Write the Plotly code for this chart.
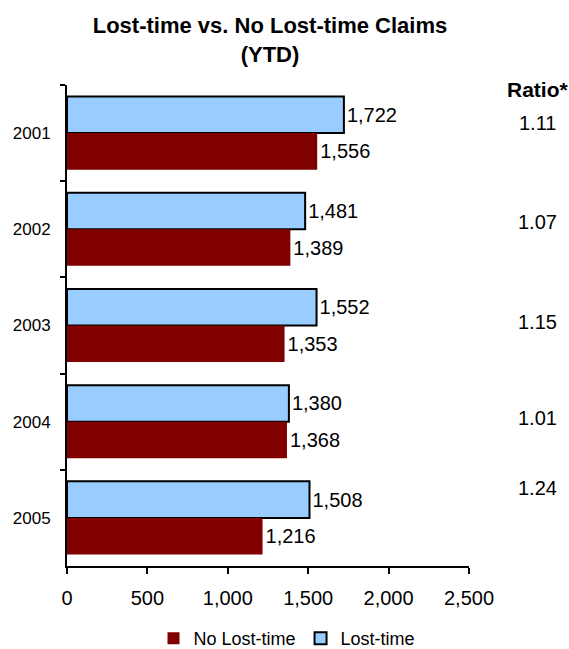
import plotly.graph_objects as go

years = ["2001", "2002", "2003", "2004", "2005"]
lost_time = [1722, 1481, 1552, 1380, 1508]
no_lost_time = [1556, 1389, 1353, 1368, 1216]
ratios = ["1.11", "1.07", "1.15", "1.01", "1.24"]

x_ticks = [0, 500, 1000, 1500, 2000, 2500]
FONT = "Arial, Liberation Sans, sans-serif"

W, H = 569, 649
M_L, M_R, M_T, M_B = 67, 100, 85, 83
PLOT_H = H - M_T - M_B


def paper_y(px):
    """Pixel row -> paper y for the plotting area."""
    return (H - M_B - px) / PLOT_H


def paper_x(px):
    return (px - M_L) / (W - M_L - M_R)


# rows of the ratio column (pixel centres)
ratio_rows = [123, 222, 322, 418, 488]

fig = go.Figure()
fig.add_trace(go.Bar(
    y=years, x=lost_time, orientation="h", name="Lost-time",
    marker=dict(color="#99CCFF", line=dict(color="black", width=2)),
    text=[f"{v:,}" for v in lost_time], textposition="outside",
    textfont=dict(size=20, color="black", family=FONT), cliponaxis=False,
    legendrank=2,
))
fig.add_trace(go.Bar(
    y=years, x=no_lost_time, orientation="h", name="No Lost-time",
    marker=dict(color="#800000", line=dict(color="#800000", width=0)),
    text=[f"{v:,}" for v in no_lost_time], textposition="outside",
    textfont=dict(size=20, color="black", family=FONT), cliponaxis=False,
    legendrank=1,
))

annotations = [dict(
    text="<b>Ratio*</b>", x=paper_x(538), y=paper_y(90), xref="paper", yref="paper",
    xanchor="center", yanchor="middle", showarrow=False,
    font=dict(size=21, color="black", family=FONT),
)]
for r, row in zip(ratios, ratio_rows):
    annotations.append(dict(
        text=r, x=paper_x(537), y=paper_y(row), xref="paper", yref="paper",
        xanchor="center", yanchor="middle", showarrow=False,
        font=dict(size=20, color="black", family=FONT),
    ))

fig.update_layout(
    width=W, height=H,
    margin=dict(l=M_L, r=M_R, t=M_T, b=M_B, autoexpand=False),
    paper_bgcolor="white", plot_bgcolor="white",
    font=dict(family=FONT, color="black"),
    title=dict(
        text="<b>Lost-time vs. No Lost-time Claims<br>(YTD)</b>",
        x=paper_x(270), xref="paper", xanchor="center",
        y=1 - 33 / H, yref="container", yanchor="top",
        font=dict(size=22, color="black", family=FONT),
    ),
    barmode="group", bargap=0.24, bargroupgap=0,
    showlegend=True,
    legend=dict(
        orientation="h", x=paper_x(287), xanchor="center",
        y=paper_y(620), yanchor="top",
        font=dict(size=18, family=FONT), itemwidth=30, tracegroupgap=0,
    ),
    annotations=annotations,
)
fig.update_xaxes(
    range=[0, 2500], tickvals=x_ticks, tickformat=",",
    showline=True, linecolor="black", linewidth=2,
    ticks="outside", ticklen=6, tickwidth=2, tickcolor="black",
    showgrid=False, zeroline=False, tickfont=dict(size=20, family=FONT),
    ticklabelstandoff=7, automargin=False,
)
fig.update_yaxes(
    type="category", autorange="reversed", tickson="boundaries",
    showline=True, linecolor="black", linewidth=2,
    ticks="outside", ticklen=5, tickwidth=2, tickcolor="black",
    showgrid=False, tickfont=dict(size=17, family=FONT), ticklabelstandoff=11,
    automargin=False,
)

fig.write_html("out.html")
